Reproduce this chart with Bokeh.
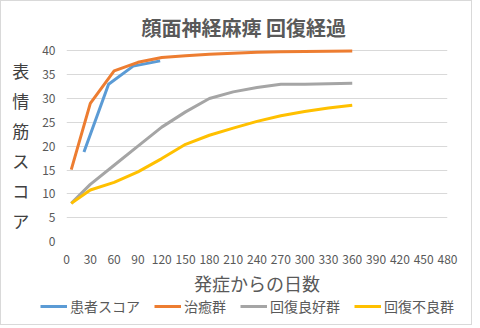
from bokeh.plotting import figure
from bokeh.models import Range1d, FixedTicker, Legend, LegendItem
from bokeh.embed import file_html
from bokeh.resources import INLINE

# ---- data ----
patient_days = [22, 53, 84, 118]
patient_score = [18.8, 33.0, 36.8, 37.9]

group_days = [6, 30, 60, 90, 120, 150, 180, 210, 240, 270, 300, 330, 360]
cured = [15.1, 29.0, 35.8, 37.6, 38.6, 39.0, 39.3, 39.5, 39.7, 39.8, 39.85, 39.9, 40.0]
good = [8.0, 12.0, 16.0, 20.0, 24.0, 27.2, 30.0, 31.4, 32.3, 33.0, 33.0, 33.1, 33.2]
poor = [8.0, 10.8, 12.4, 14.6, 17.4, 20.4, 22.3, 23.8, 25.2, 26.4, 27.3, 28.0, 28.6]

series_names = ["患者スコア", "治癒群", "回復良好群", "回復不良群"]
series_colors = ["#5B9BD5", "#ED7D31", "#A5A5A5", "#FFC000"]

x_ticks = list(range(0, 481, 30))
y_ticks = list(range(0, 41, 5))

title_text = "顔面神経麻痺 回復経過"
x_title = "発症からの日数"
y_title = "表情筋スコア"

FONT = "Noto Sans CJK JP"
GRAY = "#595959"
EDGE = "1px solid #d9d9d9"

p = figure(width=472, height=298, output_backend="svg", toolbar_location=None,
           x_range=Range1d(0, 480), y_range=Range1d(0, 40.5),
           min_border_left=65, min_border_right=26, min_border_top=47,
           min_border_bottom=58)
p.outline_line_color = None
p.styles = {"border-left": EDGE, "border-right": EDGE, "border-top": EDGE}

p.title.text = title_text
p.title.align = "left"
p.title.offset = 75
p.title.text_font = FONT
p.title.text_font_size = "20px"
p.title.text_font_style = "bold"
p.title.text_color = GRAY
p.title.standoff = 13

# axes
p.xaxis.ticker = FixedTicker(ticks=x_ticks)
p.yaxis.ticker = FixedTicker(ticks=y_ticks)
for ax in (p.xaxis[0], p.yaxis[0]):
    ax.axis_line_color = None
    ax.major_tick_line_color = None
    ax.minor_tick_line_color = None
    ax.major_tick_in = 0
    ax.major_tick_out = 0
    ax.major_label_text_font = FONT
    ax.major_label_text_font_size = "12px"
    ax.major_label_text_color = GRAY
p.xaxis.major_label_standoff = 13
p.yaxis.major_label_standoff = 11
p.xaxis.axis_label = x_title
p.xaxis.axis_label_text_font = FONT
p.xaxis.axis_label_text_font_size = "18px"
p.xaxis.axis_label_text_font_style = "normal"
p.xaxis.axis_label_text_color = GRAY
p.xaxis.axis_label_standoff = 3

# vertical stacked y title (upright characters)
p.yaxis.axis_label = "\n".join(y_title)
p.yaxis.axis_label_text_font = FONT
p.yaxis.axis_label_text_font_size = "17px"
p.yaxis.axis_label_text_font_style = "normal"
p.yaxis.axis_label_text_color = "#404040"
p.yaxis.axis_label_text_line_height = 1.2
p.yaxis.axis_label_standoff = 10
p.yaxis.axis_label_orientation = "horizontal"

p.xgrid.grid_line_color = None
p.ygrid.grid_line_color = "#d9d9d9"
p.ygrid.grid_line_width = 1

# lines
data_x = [patient_days, group_days, group_days, group_days]
data_y = [patient_score, cured, good, poor]
for name, col, xs, ys in zip(series_names, series_colors, data_x, data_y):
    p.line(xs, ys, line_color=col, line_width=3, line_join="round")

# legend strip below the chart (its own small figure, series kept out of view)
lg = figure(width=472, height=27, output_backend="svg", toolbar_location=None,
            x_range=Range1d(-2, -1), y_range=Range1d(-2, -1),
            x_axis_type=None, y_axis_type=None,
            min_border_left=0, min_border_right=0, min_border_top=0, min_border_bottom=0)
lg.outline_line_color = None
lg.xgrid.grid_line_color = None
lg.ygrid.grid_line_color = None
lg.styles = {"border-left": EDGE, "border-right": EDGE, "border-bottom": EDGE}
items = []
for name, col, xs, ys in zip(series_names, series_colors, data_x, data_y):
    r = lg.line(xs, ys, line_color=col, line_width=3)
    items.append(LegendItem(label=name, renderers=[r]))
legend = Legend(items=items, orientation="horizontal", location=(39, 9),
                padding=0, margin=0, spacing=14, glyph_width=27, glyph_height=16,
                label_height=16, label_standoff=3, label_text_font=FONT,
                label_text_font_size="14px", label_text_color=GRAY,
                border_line_color=None, background_fill_alpha=0)
lg.add_layout(legend, "center")

open("out.html", "w").write(file_html([p, lg], INLINE))
